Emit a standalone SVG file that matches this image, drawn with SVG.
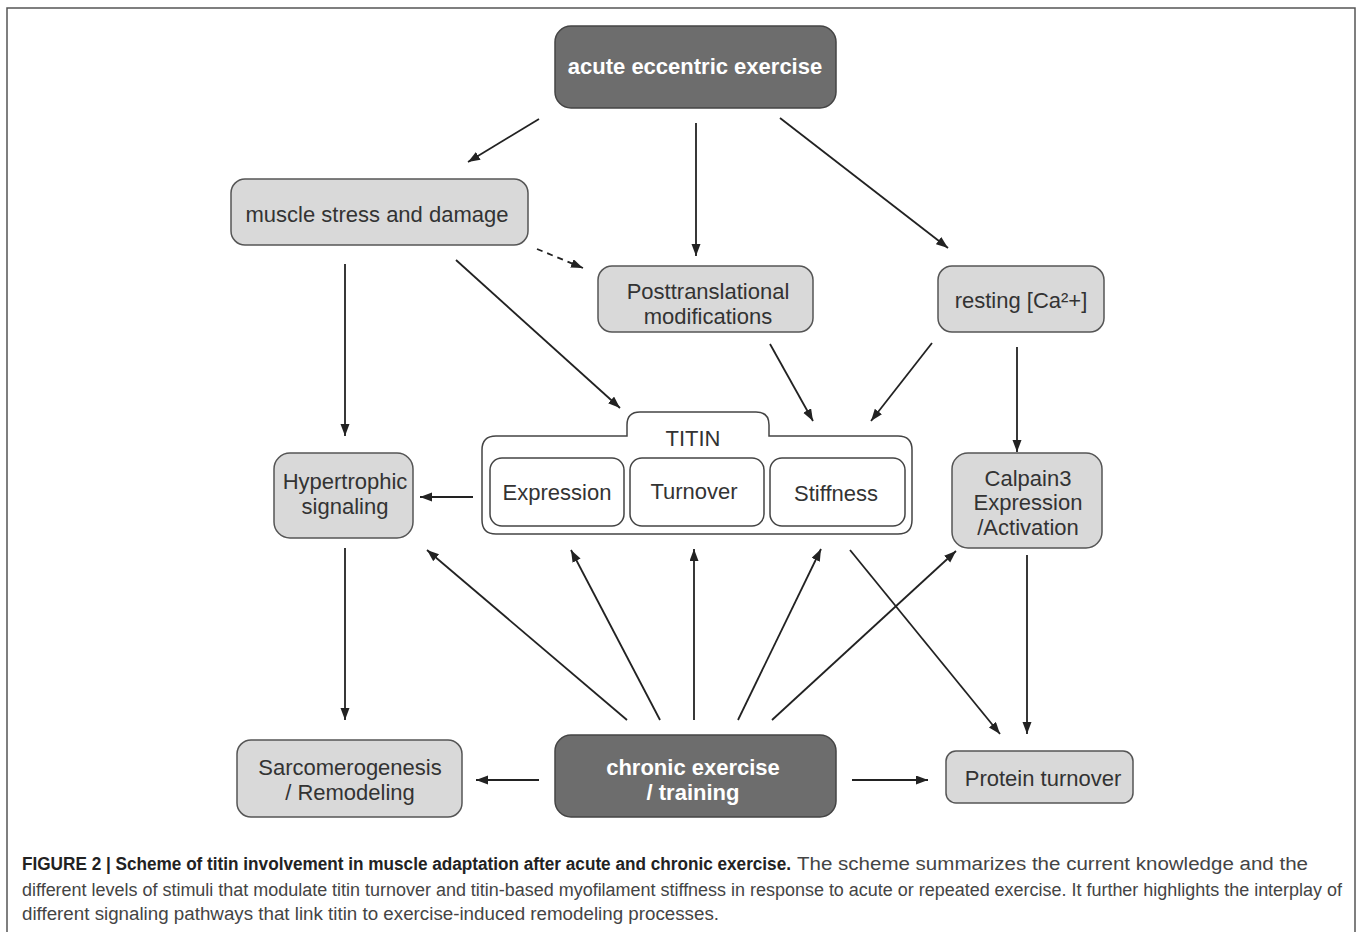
<svg xmlns="http://www.w3.org/2000/svg" width="1358" height="932" viewBox="0 0 1358 932">
<style>
.bg{fill:#fff}
.frame{fill:none;stroke:#555;stroke-width:1.5}
.light{fill:#d9d9d9;stroke:#555;stroke-width:1.5}
.dark{fill:#6d6d6d;stroke:#444;stroke-width:1.5}
.white{fill:#fff;stroke:#444;stroke-width:1.5}
.t{font-family:"Liberation Sans",Arial,sans-serif;font-size:22px;fill:#333;text-anchor:middle}
.tb{font-family:"Liberation Sans",Arial,sans-serif;font-size:22px;font-weight:bold;fill:#fff;text-anchor:middle}
.edge{stroke:#222;stroke-width:1.8;fill:none;marker-end:url(#ah)}
.dash{stroke-dasharray:6 5}
.cap{font-family:"Liberation Sans",Arial,sans-serif;font-size:18px;fill:#444}
.capb{font-family:"Liberation Sans",Arial,sans-serif;font-size:18px;font-weight:bold;fill:#222}
</style>
<defs>
<marker id="ah" markerWidth="13" markerHeight="10" refX="12" refY="4.5" orient="auto" markerUnits="userSpaceOnUse">
<path d="M0,0 L12,4.5 L0,9 z" fill="#222"/>
</marker>
</defs>
<rect class="bg" x="0" y="0" width="1358" height="932"/>
<path class="frame" d="M7,933 V8 H1355 V933"/>

<g id="connectors">
<line class="edge" x1="539" y1="119" x2="468" y2="162"/>
<line class="edge" x1="696" y1="123" x2="696" y2="256"/>
<line class="edge" x1="780" y1="118" x2="948" y2="248"/>
<line class="edge" x1="345" y1="264" x2="345" y2="436"/>
<line class="edge" x1="456" y1="260" x2="620" y2="408"/>
<line class="edge dash" x1="537" y1="249" x2="583" y2="268"/>
<line class="edge" x1="770" y1="344" x2="813" y2="421"/>
<line class="edge" x1="932" y1="343" x2="871" y2="421"/>
<line class="edge" x1="1017" y1="347" x2="1017" y2="452"/>
<line class="edge" x1="473" y1="497" x2="420" y2="497"/>
<line class="edge" x1="345" y1="548" x2="345" y2="720"/>
<line class="edge" x1="539" y1="780" x2="476" y2="780"/>
<line class="edge" x1="852" y1="780" x2="928" y2="780"/>
<line class="edge" x1="627" y1="720" x2="427" y2="550"/>
<line class="edge" x1="660" y1="720" x2="571" y2="550"/>
<line class="edge" x1="694" y1="720" x2="694" y2="549"/>
<line class="edge" x1="738" y1="720" x2="821" y2="549"/>
<line class="edge" x1="772" y1="720" x2="956" y2="551"/>
<line class="edge" x1="850" y1="550" x2="1000" y2="734"/>
<line class="edge" x1="1027" y1="555" x2="1027" y2="734"/>
</g>

<g id="acute">
<rect class="dark" x="555" y="26" width="281" height="82" rx="16"/>
<text class="tb" x="695" y="74">acute eccentric exercise</text>
</g>
<g id="muscle">
<rect class="light" x="231" y="179" width="297" height="66" rx="14"/>
<text class="t" x="377" y="222">muscle stress and damage</text>
</g>
<g id="posttrans">
<rect class="light" x="598" y="266" width="215" height="66" rx="14"/>
<text class="t" x="708" y="299">Posttranslational</text>
<text class="t" x="708" y="324">modifications</text>
</g>
<g id="calcium">
<rect class="light" x="938" y="266" width="166" height="66" rx="14"/>
<text class="t" x="1021" y="308">resting [Ca²+]</text>
</g>
<g id="titin">
<path class="white" d="M496,436 H627 V425 Q627,412 640,412 H756 Q769,412 769,425 V436 H898 Q912,436 912,450 V520 Q912,534 898,534 H496 Q482,534 482,520 V450 Q482,436 496,436 Z"/>
<text class="t" x="693" y="446">TITIN</text>
<rect class="white" x="490" y="458" width="134" height="68" rx="12"/>
<text class="t" x="557" y="500">Expression</text>
<rect class="white" x="630" y="458" width="134" height="68" rx="12"/>
<text class="t" x="694" y="499">Turnover</text>
<rect class="white" x="770" y="458" width="135" height="68" rx="12"/>
<text class="t" x="836" y="501">Stiffness</text>
</g>
<g id="hypertrophic">
<rect class="light" x="274" y="453" width="139" height="85" rx="16"/>
<text class="t" x="345" y="489">Hypertrophic</text>
<text class="t" x="345" y="514">signaling</text>
</g>
<g id="calpain">
<rect class="light" x="952" y="453" width="150" height="95" rx="16"/>
<text class="t" x="1028" y="486">Calpain3</text>
<text class="t" x="1028" y="510">Expression</text>
<text class="t" x="1028" y="535">/Activation</text>
</g>
<g id="sarcomero">
<rect class="light" x="237" y="740" width="225" height="77" rx="14"/>
<text class="t" x="350" y="775">Sarcomerogenesis</text>
<text class="t" x="350" y="800">/ Remodeling</text>
</g>
<g id="chronic">
<rect class="dark" x="555" y="735" width="281" height="82" rx="16"/>
<text class="tb" x="693" y="775">chronic exercise</text>
<text class="tb" x="693" y="800">/ training</text>
</g>
<g id="protein">
<rect class="light" x="946" y="751" width="187" height="52" rx="10"/>
<text class="t" x="1043" y="786">Protein turnover</text>
</g>

<g id="caption">
<text class="capb" x="22" y="870" textLength="769" lengthAdjust="spacingAndGlyphs">FIGURE 2 | Scheme of titin involvement in muscle adaptation after acute and chronic exercise.</text>
<text class="cap" x="797" y="870" textLength="511" lengthAdjust="spacingAndGlyphs">The scheme summarizes the current knowledge and the</text>
<text class="cap" x="22" y="896" textLength="1320" lengthAdjust="spacingAndGlyphs">different levels of stimuli that modulate titin turnover and titin-based myofilament stiffness in response to acute or repeated exercise. It further highlights the interplay of</text>
<text class="cap" x="22" y="920" textLength="697" lengthAdjust="spacingAndGlyphs">different signaling pathways that link titin to exercise-induced remodeling processes.</text>
</g>
</svg>
